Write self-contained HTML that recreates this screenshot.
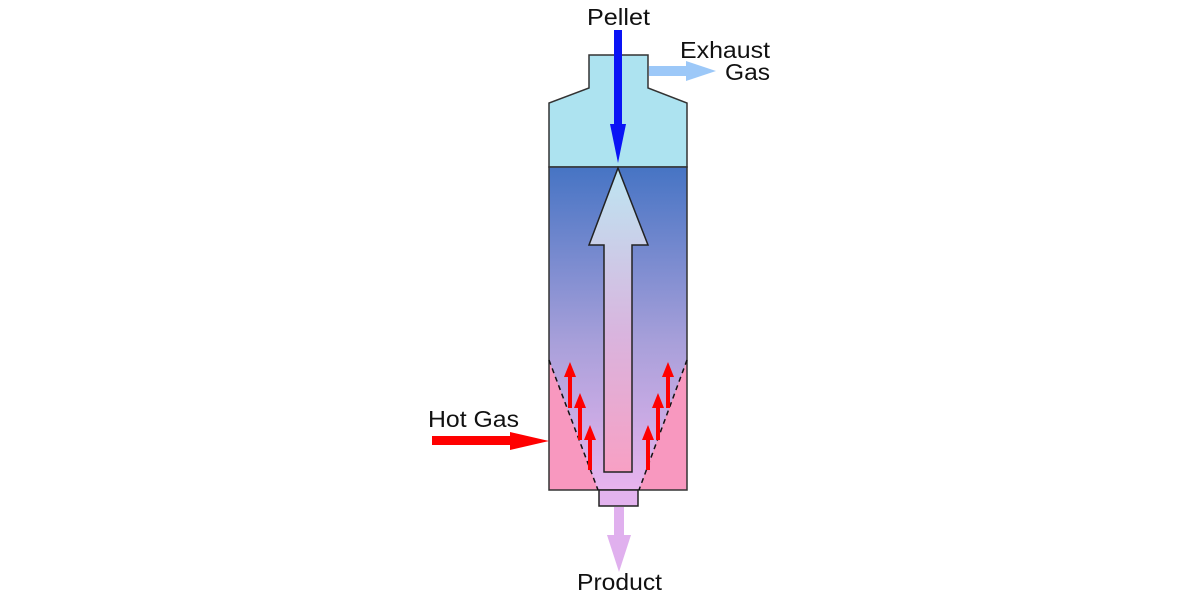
<!DOCTYPE html>
<html><head><meta charset="utf-8"><style>
html,body{margin:0;padding:0;background:#fff;width:1200px;height:600px;overflow:hidden}
</style></head><body>
<svg width="1200" height="600" viewBox="0 0 1200 600" xmlns="http://www.w3.org/2000/svg" font-family="Liberation Sans, sans-serif">
<defs>
<linearGradient id="body" x1="0" y1="0" x2="0" y2="1">
<stop offset="0" stop-color="#4674c4"/>
<stop offset="0.55" stop-color="#a9a0da"/>
<stop offset="1" stop-color="#e8b4ee"/>
</linearGradient>
<linearGradient id="arr" x1="0" y1="0" x2="0" y2="1">
<stop offset="0" stop-color="#bde6f2"/>
<stop offset="0.55" stop-color="#d9b4de"/>
<stop offset="1" stop-color="#f8a0c4"/>
</linearGradient>
</defs>
<path d="M549,167 L549,103 L589,88 L589,55 L648,55 L648,88 L687,103 L687,167 Z" fill="#ade3f0" stroke="#333" stroke-width="1.5"/>
<rect x="549" y="167" width="138" height="323" fill="url(#body)"/>
<path d="M549,360 L598,490 L549,490 Z" fill="#f898bf"/>
<path d="M687,360 L639,490 L687,490 Z" fill="#f898bf"/>
<rect x="549" y="167" width="138" height="323" fill="none" stroke="#333" stroke-width="1.5"/>
<line x1="549" y1="360" x2="598" y2="490" stroke="#111" stroke-width="1.5" stroke-dasharray="5,4"/>
<line x1="687" y1="360" x2="639" y2="490" stroke="#111" stroke-width="1.5" stroke-dasharray="5,4"/>
<path d="M618,168 L648,245 L632,245 L632,472 L604,472 L604,245 L589,245 Z" fill="url(#arr)" stroke="#222" stroke-width="1.5"/>
<g fill="#f00">
<rect x="568" y="375" width="4" height="33"/><path d="M564,377 L570,362 L576,377Z"/>
<rect x="578" y="406" width="4" height="34"/><path d="M574,408 L580,393 L586,408Z"/>
<rect x="588" y="438" width="4" height="32"/><path d="M584,440 L590,425 L596,440Z"/>
<rect x="646" y="438" width="4" height="32"/><path d="M642,440 L648,425 L654,440Z"/>
<rect x="656" y="406" width="4" height="34"/><path d="M652,408 L658,393 L664,408Z"/>
<rect x="666" y="375" width="4" height="33"/><path d="M662,377 L668,362 L674,377Z"/>
</g>
<rect x="599" y="490" width="39" height="16" fill="#e3b3ee" stroke="#222" stroke-width="1.5"/>
<rect x="614" y="507" width="10" height="30" fill="#e0b0ee"/>
<path d="M607,535 L631,535 L619,572Z" fill="#e0b0ee"/>
<rect x="614" y="30" width="8" height="96" fill="#0a14f5"/>
<path d="M610,124 L626,124 L618,163Z" fill="#0a14f5"/>
<rect x="649" y="66" width="40" height="10" fill="#9cc8f8"/>
<path d="M686,61 L716,71 L686,81Z" fill="#9cc8f8"/>
<rect x="432" y="436" width="82" height="9" fill="#f00"/>
<path d="M510,432 L549,441 L510,450Z" fill="#f00"/>
<g font-size="23" fill="#111">
<text x="587" y="25" textLength="63" lengthAdjust="spacingAndGlyphs">Pellet</text>
<text x="680" y="58" textLength="90" lengthAdjust="spacingAndGlyphs">Exhaust</text>
<text x="725" y="80" textLength="45" lengthAdjust="spacingAndGlyphs">Gas</text>
<text x="428" y="427" textLength="91" lengthAdjust="spacingAndGlyphs">Hot Gas</text>
<text x="577" y="590" textLength="85" lengthAdjust="spacingAndGlyphs">Product</text>
</g>
</svg>
</body></html>
